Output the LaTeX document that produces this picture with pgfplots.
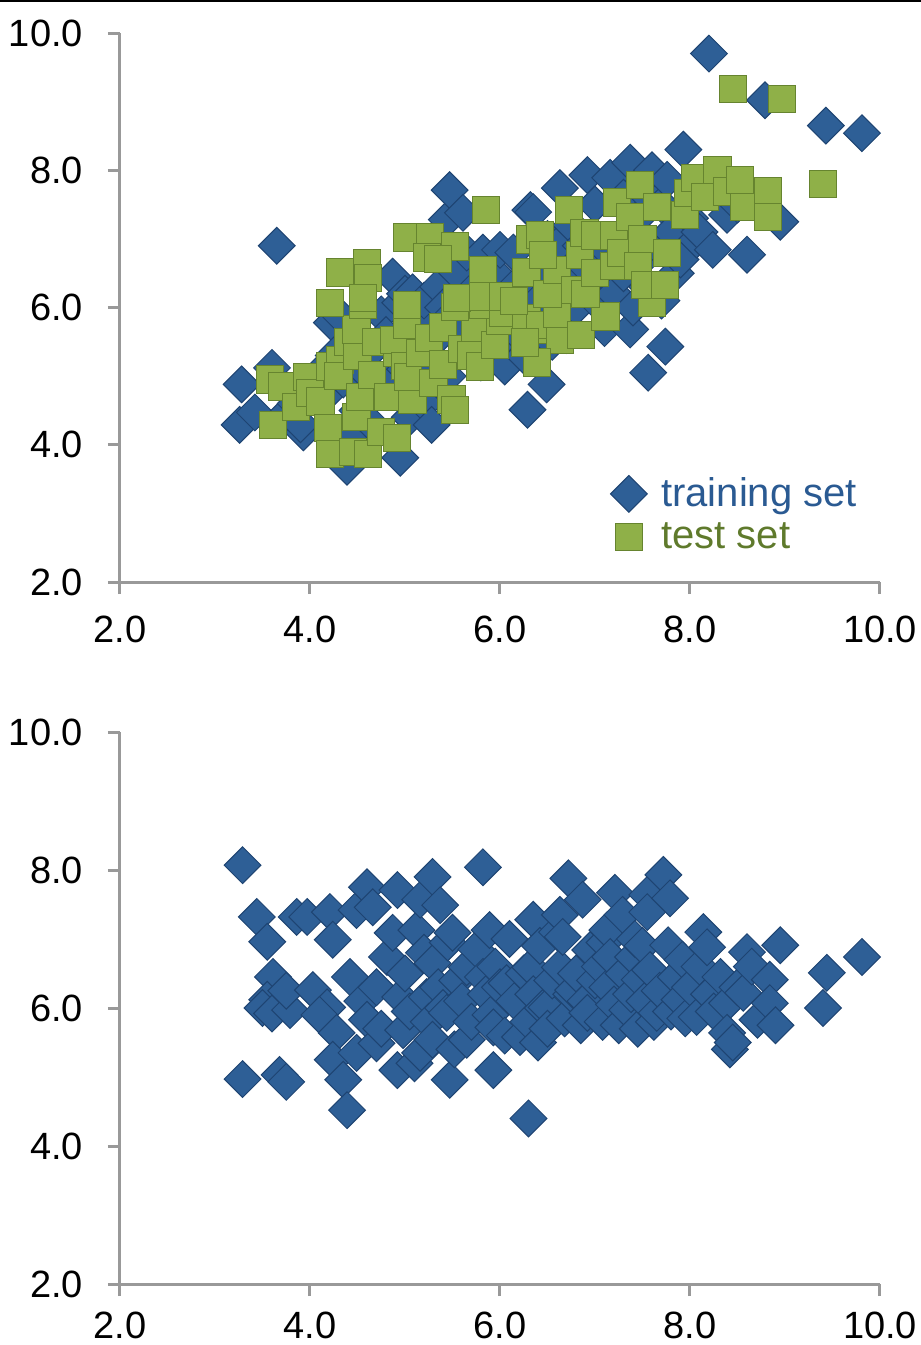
\documentclass[border=0pt]{standalone}
\usepackage{pgfplots}
\pgfplotsset{compat=1.18}
\usepackage{fontspec}
\setmainfont{Liberation Sans}
\definecolor{tblue}{HTML}{2E5F96}
\definecolor{tbluedark}{HTML}{1E4472}
\definecolor{tgreen}{HTML}{8FB048}
\definecolor{tgreendark}{HTML}{66842F}
\definecolor{lblue}{HTML}{2A5A92}
\definecolor{lgreen}{HTML}{5F7A2C}
\definecolor{axgray}{HTML}{999999}

\pgfplotsset{
 myaxis/.style={
  scale only axis, width=380pt,
  xmin=2, xmax=10, ymin=2, ymax=10,
  xtick={2,4,6,8,10}, ytick={2,4,6,8,10},
  axis x line*=bottom, axis y line*=left,
  axis line style={-, axgray, line width=1.5pt},
  tick style={axgray, line width=1.5pt},
  tick align=outside, major tick length=6pt,
  tick label style={font=\fontsize{19}{22}\selectfont},
  xticklabel style={inner ysep=0.5pt, yshift=#1},
  yticklabel style={xshift=-9pt},
  /pgf/number format/fixed, /pgf/number format/fixed zerofill,
  /pgf/number format/precision=1, /pgf/number format/assume math mode=true,
  clip=false,
 },
 trainmark/.style={only marks, mark=square*, mark size=6.5pt,
   mark options={rotate=45, fill=tblue, draw=tbluedark, line width=0.5pt}},
 testmark/.style={only marks, mark=square*, mark size=6.8pt,
   mark options={fill=tgreen, draw=tgreendark, line width=0.5pt}},
}

\pgfplotstableread{
x y
3.26 4.29
3.28 4.88
3.42 4.47
3.60 5.12
3.65 6.90
3.76 4.47
3.93 4.18
3.85 4.60
3.90 4.30
4.00 4.90
4.10 5.05
4.15 4.70
4.23 5.78
4.25 5.30
4.30 5.90
4.35 4.95
4.39 3.68
4.45 4.10
4.50 4.50
4.55 5.10
4.60 5.30
4.65 4.30
4.70 4.80
4.75 5.90
4.80 5.60
4.85 5.00
4.87 6.45
4.95 3.81
4.95 6.07
5.00 5.10
5.00 6.20
5.05 4.40
5.08 6.22
5.10 5.60
5.15 5.80
5.20 6.10
5.20 4.60
5.25 5.25
5.28 4.29
5.30 5.50
5.35 6.30
5.40 6.00
5.44 7.28
5.45 5.00
5.47 7.71
5.50 5.90
5.55 6.50
5.60 5.70
5.61 7.38
5.65 6.80
5.70 5.40
5.75 6.30
5.80 5.20
5.82 6.80
5.85 6.10
5.90 5.80
5.95 6.50
6.00 6.84
6.00 5.50
6.05 5.14
6.10 6.00
6.14 6.80
6.15 6.30
6.20 5.60
6.25 5.30
6.29 4.51
6.30 6.30
6.32 7.42
6.35 7.39
6.40 5.90
6.40 6.10
6.45 6.60
6.49 4.88
6.50 7.00
6.55 6.20
6.55 5.50
6.60 6.90
6.63 7.74
6.65 5.80
6.70 6.50
6.70 5.60
6.75 7.20
6.80 6.00
6.85 6.90
6.90 6.60
6.92 7.93
6.95 6.30
7.00 7.50
7.00 6.10
7.05 6.60
7.10 5.70
7.15 6.80
7.16 7.89
7.20 6.20
7.25 7.00
7.30 6.50
7.30 7.60
7.37 8.11
7.37 5.68
7.40 6.00
7.45 7.30
7.50 6.70
7.50 7.70
7.55 6.30
7.56 5.05
7.60 8.00
7.65 6.90
7.70 6.10
7.70 7.50
7.74 5.43
7.76 7.86
7.80 7.10
7.85 6.50
7.90 6.70
7.93 8.30
8.00 7.30
8.07 6.99
8.10 7.10
8.20 9.70
8.24 6.84
8.39 7.35
8.50 7.50
8.60 6.77
8.79 9.02
8.95 7.25
9.43 8.65
9.81 8.54
}\traintop

\pgfplotstableread{
x y
3.58 4.95
3.61 4.29
3.71 4.85
3.85 4.55
3.97 4.99
4.00 4.75
4.11 4.63
4.21 5.14
4.32 5.24
4.30 5.00
4.19 4.25
4.21 3.86
4.40 5.50
4.49 4.41
4.45 3.90
4.61 3.86
4.53 4.70
4.50 5.30
4.65 5.02
4.49 5.68
4.70 5.50
4.92 5.34
4.89 5.53
5.02 5.75
4.82 4.70
4.75 4.19
4.92 4.10
5.00 5.15
5.08 4.66
5.03 4.99
5.16 5.34
5.25 5.55
5.30 4.90
5.40 5.71
5.40 5.17
5.49 4.66
5.53 4.51
5.60 5.40
5.70 5.30
5.74 5.71
5.79 5.14
5.95 5.45
6.00 5.80
6.35 5.68
5.02 6.04
4.56 6.04
4.21 6.07
5.53 6.01
5.82 6.04
6.03 5.92
6.28 5.85
6.42 5.75
6.63 5.53
6.39 5.20
6.26 5.49
6.60 5.90
6.85 5.60
7.11 5.87
7.60 6.07
4.32 6.51
4.60 6.65
4.61 6.43
4.56 6.14
5.02 7.02
5.26 7.02
5.53 6.89
5.23 6.73
5.35 6.71
5.55 6.14
5.82 6.55
5.82 6.16
6.03 6.16
6.15 6.10
6.32 6.99
6.28 6.51
6.50 6.20
6.60 6.55
5.85 7.42
6.42 7.06
6.45 6.77
6.73 7.42
6.79 6.26
6.84 6.77
6.89 7.09
6.90 6.20
7.00 6.50
7.00 7.05
7.20 6.60
7.20 7.05
7.23 7.53
7.28 6.80
7.37 7.32
7.45 6.60
7.47 7.79
7.50 7.00
7.53 6.33
7.65 7.47
7.74 6.33
7.76 6.80
7.95 7.35
7.98 7.67
8.05 7.89
8.16 7.61
8.29 8.00
8.39 7.69
8.53 7.86
8.57 7.47
8.82 7.69
8.82 7.32
8.45 9.18
8.97 9.04
9.40 7.80
}\testtop

\pgfplotstableread{
x y
3.29 8.07
3.44 7.32
3.55 6.96
3.61 6.45
3.55 6.12
3.50 6.00
3.60 5.92
3.79 5.97
3.75 6.25
3.29 4.97
3.68 5.03
3.75 4.93
3.86 7.32
3.97 7.32
4.03 6.26
4.18 6.01
4.10 5.90
4.21 7.39
4.24 6.99
4.28 5.64
4.24 5.25
4.35 4.96
4.39 4.52
4.42 6.45
4.49 7.42
4.49 5.35
4.55 6.10
4.60 7.75
4.60 5.83
4.66 7.46
4.70 6.30
4.70 5.49
4.75 5.70
4.81 6.74
4.87 7.09
4.92 7.71
4.92 5.10
4.95 6.16
4.98 5.68
5.00 6.50
5.05 5.95
5.10 5.20
5.12 7.13
5.16 7.57
5.16 5.35
5.20 6.80
5.23 6.16
5.25 5.80
5.29 7.90
5.29 6.65
5.29 5.54
5.35 6.30
5.37 7.49
5.40 6.00
5.44 5.93
5.45 6.95
5.47 4.96
5.50 7.09
5.52 5.40
5.55 6.40
5.60 6.10
5.65 6.59
5.65 5.54
5.70 5.80
5.75 6.85
5.82 8.04
5.82 6.45
5.85 6.20
5.89 7.13
5.90 5.90
5.93 5.72
5.93 5.10
5.95 6.60
6.00 6.30
6.05 5.60
6.07 6.36
6.10 7.00
6.15 6.10
6.21 5.58
6.25 6.50
6.30 4.40
6.30 5.80
6.32 6.59
6.35 7.28
6.35 6.20
6.40 5.50
6.42 6.90
6.45 6.00
6.49 6.01
6.50 5.70
6.55 6.40
6.60 7.10
6.63 7.35
6.63 6.59
6.66 7.03
6.68 5.85
6.72 7.88
6.75 6.20
6.77 6.26
6.80 6.50
6.85 5.75
6.87 7.57
6.90 6.10
6.92 5.93
6.95 6.84
7.00 6.40
7.05 6.60
7.08 5.80
7.10 6.95
7.13 7.13
7.13 6.30
7.16 6.74
7.21 7.67
7.20 6.05
7.25 5.75
7.29 7.35
7.30 6.50
7.34 5.97
7.38 6.20
7.40 6.74
7.42 7.00
7.45 5.70
7.47 6.41
7.50 6.90
7.52 6.10
7.55 7.64
7.55 7.39
7.58 6.55
7.62 5.80
7.65 5.93
7.68 6.25
7.72 7.93
7.77 6.91
7.79 7.59
7.80 5.95
7.85 6.45
7.89 6.12
7.92 6.70
7.95 5.85
8.00 6.30
8.07 5.87
8.10 6.60
8.14 7.10
8.18 6.88
8.20 6.20
8.25 5.95
8.32 6.45
8.39 6.07
8.39 5.64
8.42 5.40
8.45 5.50
8.50 6.30
8.56 6.22
8.60 6.81
8.65 6.60
8.71 5.83
8.84 6.41
8.84 6.07
8.90 5.75
8.95 6.91
9.40 6.00
9.44 6.51
9.81 6.74
}\trainbottom

\begin{document}
\begin{tikzpicture}
\useasboundingbox (0,0) rectangle (460.5pt,-672.5pt);
\draw[black, line width=1.2pt] (0,-0.6pt) -- (460.5pt,-0.6pt);

\begin{axis}[myaxis=-10.3pt, at={(60pt,-291pt)}, anchor=south west, height=274.5pt,
  legend style={at={(rel axis cs:0.637,0.205)}, anchor=north west, draw=none, fill=none,
    font=\fontsize{20}{24}\selectfont, row sep=2.5pt},
  legend cell align=left]
\addplot[trainmark] table {\traintop};
\addlegendentry{\hspace{5pt}\textcolor{lblue}{training set}}
\addplot[testmark] table {\testtop};
\addlegendentry{\hspace{5pt}\textcolor{lgreen}{test set}}
\end{axis}

\begin{axis}[myaxis=-7.3pt, at={(60pt,-642pt)}, anchor=south west, height=276pt]
\addplot[trainmark] table {\trainbottom};
\end{axis}
\end{tikzpicture}
\end{document}
